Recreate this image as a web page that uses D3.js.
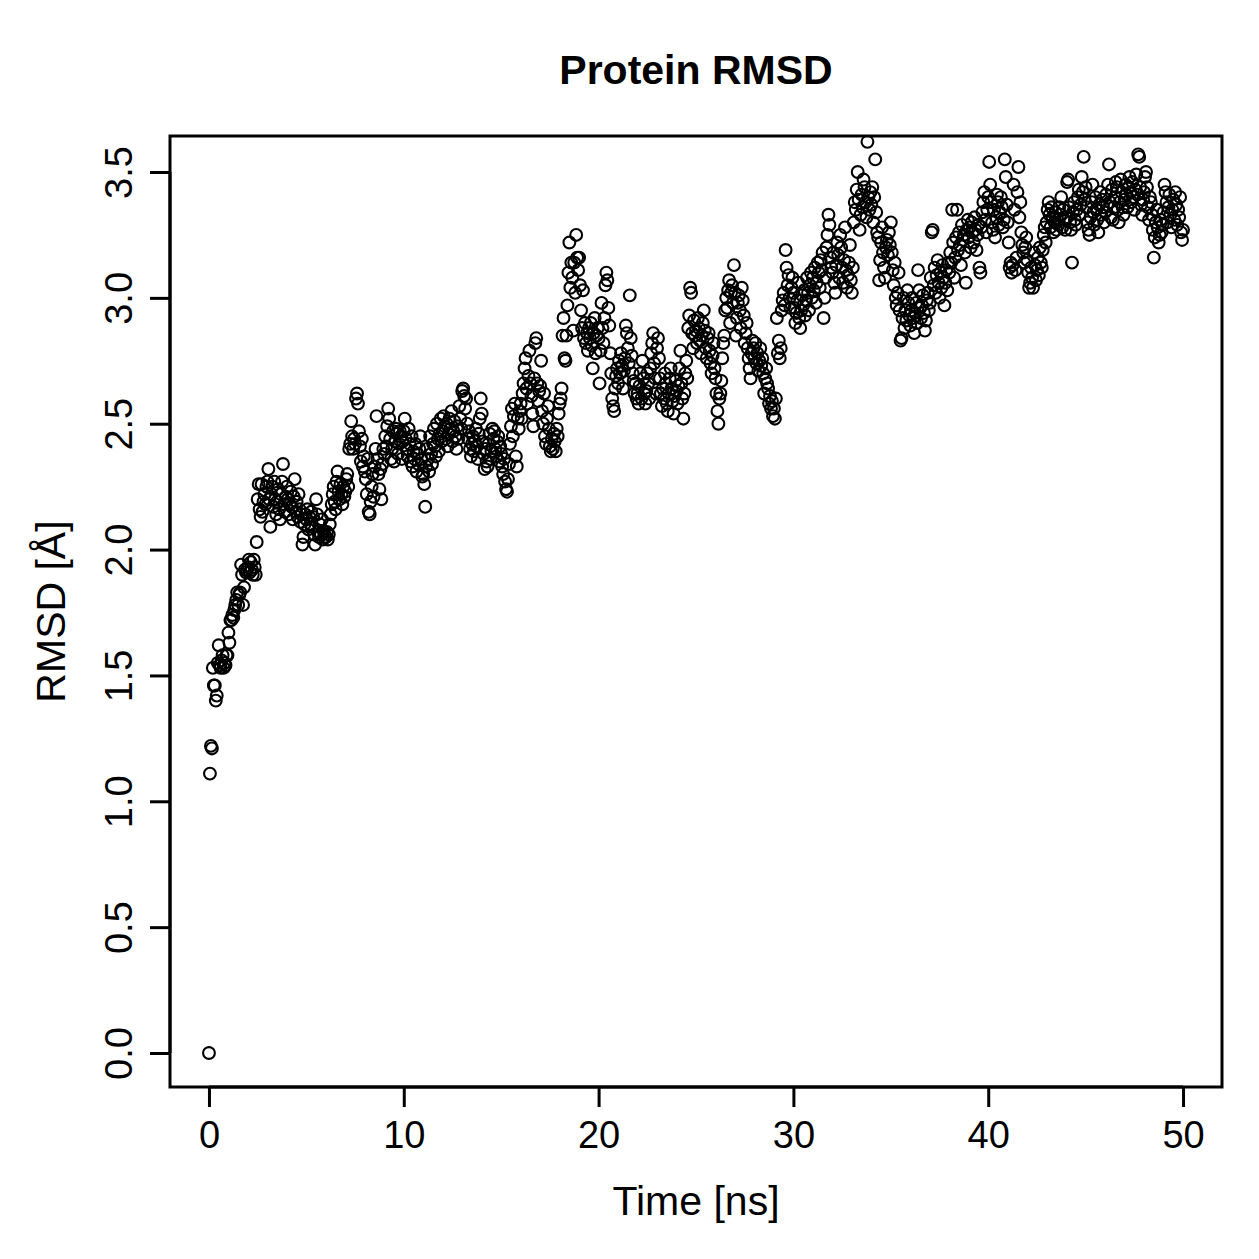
<!DOCTYPE html>
<html>
<head>
<meta charset="utf-8">
<script src="https://cdn.jsdelivr.net/npm/d3@7"></script>
<style>
  html, body { margin: 0; padding: 0; background: #fff; }
  svg { display: block; }
  text { font-family: "Liberation Sans", Arial, Helvetica, sans-serif; fill: #000; }
</style>
</head>
<body>
<svg id="chart" width="1259" height="1259"></svg>
<script>
// ---- data ----
const chartTitle = "Protein RMSD";
const xLabel = "Time [ns]";
const yLabel = "RMSD [Å]";
const timeStepNs = 0.05;               // sampling interval of the trajectory
const xTicks = [0, 10, 20, 30, 40, 50];
const yTicks = [0.0, 0.5, 1.0, 1.5, 2.0, 2.5, 3.0, 3.5];
const xDomain = [-2, 52];
const yDomain = [-0.135, 3.643];
// RMSD values (Å), one row per ns (20 frames per ns)
const rmsd = [
  0.00,1.11,1.22,1.21,1.53,1.46,1.46,1.40,1.42,1.55,1.62,1.54,1.53,1.56,1.58,1.53,1.55,1.54,1.58,1.58,
  1.67,1.63,1.72,1.72,1.74,1.73,1.76,1.78,1.80,1.83,1.78,1.82,1.83,1.94,1.90,1.78,1.85,1.92,1.91,1.92,
  1.93,1.96,1.91,1.95,1.92,1.90,1.96,1.93,1.90,2.03,2.20,2.26,2.16,2.13,2.26,2.15,2.19,2.22,2.18,2.25,
  2.27,2.32,2.20,2.09,2.22,2.25,2.17,2.27,2.20,2.14,2.19,2.24,2.16,2.12,2.22,2.27,2.34,2.18,2.15,2.21,
  2.25,2.20,2.14,2.18,2.23,2.17,2.12,2.21,2.28,2.15,2.19,2.13,2.22,2.16,2.11,2.14,2.02,2.05,2.10,2.14,
  2.12,2.16,2.08,2.13,2.10,2.15,2.09,2.13,2.06,2.02,2.20,2.14,2.07,2.05,2.10,2.06,2.12,2.04,2.07,2.05,
  2.05,2.07,2.04,2.06,2.10,2.14,2.18,2.22,2.25,2.19,2.16,2.27,2.31,2.23,2.20,2.26,2.22,2.18,2.25,2.21,
  2.23,2.28,2.30,2.25,2.40,2.42,2.51,2.45,2.40,2.44,2.42,2.60,2.62,2.58,2.47,2.41,2.35,2.44,2.33,2.37,
  2.31,2.28,2.22,2.36,2.15,2.14,2.19,2.25,2.30,2.21,2.33,2.40,2.53,2.36,2.30,2.24,2.32,2.20,2.34,2.40,
  2.38,2.45,2.41,2.49,2.56,2.52,2.44,2.36,2.40,2.47,2.35,2.43,2.48,2.46,2.38,2.42,2.47,2.45,2.36,2.43,
  2.47,2.52,2.44,2.40,2.37,2.48,2.42,2.35,2.45,2.33,2.39,2.36,2.42,2.31,2.38,2.34,2.40,2.45,2.36,2.29,
  2.30,2.26,2.17,2.33,2.40,2.36,2.31,2.45,2.38,2.34,2.42,2.48,2.41,2.37,2.50,2.44,2.39,2.46,2.52,2.43,
  2.47,2.53,2.49,2.44,2.50,2.41,2.46,2.52,2.48,2.55,2.43,2.47,2.51,2.45,2.40,2.49,2.44,2.57,2.52,2.48,
  2.63,2.64,2.61,2.56,2.60,2.50,2.44,2.47,2.40,2.37,2.42,2.45,2.39,2.43,2.48,2.41,2.36,2.46,2.52,2.60,
  2.54,2.43,2.38,2.32,2.40,2.35,2.33,2.42,2.46,2.36,2.39,2.48,2.44,2.47,2.40,2.37,2.43,2.45,2.35,2.41,
  2.38,2.33,2.30,2.36,2.27,2.24,2.23,2.28,2.34,2.42,2.49,2.56,2.45,2.53,2.58,2.37,2.33,2.52,2.48,2.55,
  2.58,2.52,2.62,2.66,2.72,2.76,2.64,2.58,2.69,2.79,2.66,2.61,2.54,2.49,2.68,2.82,2.84,2.66,2.59,2.63,
  2.65,2.75,2.55,2.50,2.62,2.45,2.42,2.52,2.57,2.48,2.41,2.39,2.44,2.40,2.46,2.43,2.39,2.48,2.45,2.54,
  2.58,2.60,2.64,2.85,2.92,2.76,2.75,2.85,2.97,3.10,3.22,3.04,3.14,3.08,2.87,3.14,3.02,3.25,3.16,3.11,
  3.16,3.05,2.95,2.88,3.03,2.84,2.90,2.82,2.86,2.79,2.88,2.84,2.90,2.81,2.72,2.86,2.92,2.78,2.85,2.88,
  2.84,2.66,2.79,2.98,2.88,2.82,2.92,3.05,3.10,3.07,2.96,2.89,2.78,2.70,2.60,2.57,2.55,2.64,2.69,2.72,
  2.66,2.75,2.70,2.78,2.73,2.64,2.71,2.76,2.89,2.86,2.80,2.74,3.01,2.84,2.77,2.70,2.67,2.62,2.66,2.60,
  2.62,2.58,2.65,2.70,2.60,2.75,2.68,2.62,2.58,2.63,2.70,2.66,2.60,2.72,2.78,2.82,2.86,2.74,2.68,2.62,
  2.80,2.84,2.76,2.68,2.62,2.57,2.64,2.60,2.70,2.66,2.58,2.55,2.62,2.68,2.72,2.64,2.59,2.54,2.61,2.67,
  2.63,2.58,2.65,2.72,2.79,2.66,2.60,2.52,2.62,2.70,2.75,2.68,2.88,2.93,3.04,3.02,2.86,2.80,2.91,2.85,
  2.87,2.82,2.92,2.88,2.83,2.78,2.85,2.90,2.95,2.87,2.80,2.76,2.84,2.86,2.79,2.74,2.70,2.77,2.82,2.72,
  2.68,2.62,2.55,2.50,2.60,2.62,2.67,2.76,2.82,2.85,2.95,3.00,2.96,3.03,3.07,2.90,3.02,3.05,2.98,3.13,
  3.02,2.85,2.92,2.98,3.01,2.95,2.88,3.04,2.99,2.93,2.82,2.86,2.90,2.80,2.76,2.72,2.68,2.78,2.83,2.80,
  2.76,2.82,2.74,2.78,2.71,2.75,2.80,2.73,2.76,2.70,2.62,2.68,2.72,2.66,2.64,2.58,2.61,2.56,2.59,2.53,
  2.56,2.52,2.60,2.92,2.78,2.83,2.76,2.80,2.95,2.99,3.02,2.97,3.19,3.12,3.05,3.09,3.00,2.96,3.04,3.08,
  3.02,2.96,2.90,2.94,2.99,3.06,2.92,2.88,2.95,3.01,2.97,3.03,2.93,2.99,3.08,3.02,2.95,3.05,3.10,3.00,
  3.08,3.03,3.12,2.98,3.06,3.14,3.10,3.04,3.15,3.11,3.18,2.92,3.00,3.08,3.20,3.25,3.33,3.29,3.16,3.12,
  3.10,3.18,3.06,3.02,3.13,3.22,3.17,3.08,3.25,3.20,3.12,3.06,3.15,3.28,3.11,3.04,3.09,3.14,3.21,3.07,
  3.02,3.12,3.30,3.38,3.35,3.43,3.50,3.39,3.27,3.33,3.41,3.36,3.47,3.44,3.38,3.32,3.62,3.40,3.35,3.42,
  3.37,3.44,3.30,3.40,3.55,3.34,3.26,3.24,3.07,3.15,3.22,3.28,3.18,3.12,3.08,3.20,3.23,3.17,3.26,3.21,
  3.30,3.18,3.11,3.05,3.14,3.00,2.97,3.02,3.10,2.95,2.83,2.84,2.92,3.00,2.88,2.95,2.91,3.03,2.98,2.93,
  2.89,2.95,3.00,2.92,2.86,2.94,2.98,2.90,3.11,3.03,2.96,2.92,2.97,3.01,2.94,2.87,2.91,2.99,3.02,2.95,
  2.98,3.08,3.26,3.27,3.05,3.12,3.02,3.09,3.15,3.06,3.00,3.10,3.04,3.13,3.08,2.97,3.06,3.11,3.03,3.14,
  3.10,3.18,3.14,3.35,3.22,3.08,3.16,3.24,3.35,3.19,3.26,3.21,3.13,3.29,3.23,3.25,3.18,3.06,3.27,3.31,
  3.24,3.28,3.20,3.30,3.26,3.22,3.32,3.27,3.19,3.25,3.29,3.12,3.10,3.28,3.34,3.38,3.42,3.31,3.26,3.35,
  3.40,3.54,3.45,3.38,3.30,3.27,3.35,3.24,3.32,3.41,3.38,3.29,3.34,3.40,3.36,3.28,3.31,3.55,3.48,3.37,
  3.30,3.22,3.12,3.14,3.10,3.13,3.45,3.35,3.11,3.16,3.42,3.52,3.32,3.38,3.26,3.21,3.18,3.14,3.20,3.24,
  3.15,3.10,3.04,3.06,3.12,3.08,3.04,3.18,3.13,3.07,3.11,3.16,3.09,3.20,3.14,3.12,3.19,3.25,3.28,3.22,
  3.30,3.35,3.38,3.33,3.28,3.36,3.32,3.26,3.30,3.34,3.27,3.31,3.29,3.36,3.33,3.40,3.28,3.35,3.31,3.27,
  3.32,3.46,3.47,3.36,3.30,3.27,3.14,3.34,3.38,3.31,3.29,3.35,3.40,3.43,3.33,3.37,3.48,3.42,3.56,3.39,
  3.44,3.36,3.30,3.27,3.25,3.32,3.38,3.45,3.34,3.29,3.40,3.35,3.31,3.26,3.37,3.42,3.33,3.39,3.36,3.30,
  3.34,3.41,3.37,3.45,3.53,3.38,3.32,3.43,3.31,3.36,3.40,3.46,3.44,3.35,3.30,3.38,3.47,3.42,3.36,3.33,
  3.39,3.45,3.41,3.36,3.44,3.48,3.42,3.38,3.46,3.40,3.35,3.43,3.49,3.41,3.57,3.56,3.44,3.37,3.33,3.39,
  3.42,3.48,3.50,3.44,3.36,3.31,3.40,3.38,3.33,3.27,3.16,3.24,3.30,3.35,3.28,3.22,3.25,3.31,3.26,3.29,
  3.34,3.45,3.42,3.38,3.30,3.36,3.41,3.33,3.28,3.35,3.39,3.31,3.42,3.37,3.29,3.35,3.32,3.40,3.26,3.23,
  3.27
];

// ---- layout ----
const plot = { left: 170, right: 1222, top: 136, bottom: 1087 };
const svg = d3.select("#chart");

const x = d3.scaleLinear().domain(xDomain).range([plot.left, plot.right]);
const y = d3.scaleLinear().domain(yDomain).range([plot.bottom, plot.top]);

const points = rmsd.map((v, i) => ({ t: i * timeStepNs, v }));

svg.append("defs").append("clipPath").attr("id", "plotclip")
  .append("rect")
  .attr("x", plot.left).attr("y", plot.top)
  .attr("width", plot.right - plot.left).attr("height", plot.bottom - plot.top);

// points
svg.append("g").attr("clip-path", "url(#plotclip)")
  .selectAll("circle").data(points).join("circle")
  .attr("cx", d => x(d.t))
  .attr("cy", d => y(d.v))
  .attr("r", 5.9)
  .attr("fill", "none")
  .attr("stroke", "#000")
  .attr("stroke-width", 2.1);

// frame
svg.append("rect")
  .attr("x", plot.left).attr("y", plot.top)
  .attr("width", plot.right - plot.left).attr("height", plot.bottom - plot.top)
  .attr("fill", "none").attr("stroke", "#000").attr("stroke-width", 3);

// x axis
const xAxis = d3.axisBottom(x).tickValues(xTicks).tickSize(20).tickPadding(10)
  .tickFormat(d3.format("d"));
const gx = svg.append("g").attr("transform", `translate(0,${plot.bottom})`).call(xAxis);
gx.select(".domain").attr("d", `M${x(xTicks[0])},0H${x(xTicks[xTicks.length - 1])}`)
  .attr("stroke-width", 3);
gx.selectAll(".tick line").attr("stroke-width", 3);
gx.selectAll(".tick text").attr("font-size", 38)
  .attr("font-family", '"Liberation Sans", Arial, sans-serif')
  .attr("dy", null).attr("y", 61);

// y axis
const yAxis = d3.axisLeft(y).tickValues(yTicks).tickSize(20)
  .tickFormat(d3.format(".1f"));
const gy = svg.append("g").attr("transform", `translate(${plot.left},0)`).call(yAxis);
gy.select(".domain").attr("d", `M0,${y(yTicks[0])}V${y(yTicks[yTicks.length - 1])}`)
  .attr("stroke-width", 3);
gy.selectAll(".tick line").attr("stroke-width", 3);
gy.selectAll(".tick text")
  .attr("font-size", 38)
  .attr("font-family", '"Liberation Sans", Arial, sans-serif')
  .attr("x", null).attr("dy", null)
  .attr("text-anchor", "middle")
  .attr("transform", "translate(-38,0) rotate(-90)");

// titles
svg.append("text")
  .attr("x", (plot.left + plot.right) / 2).attr("y", 84)
  .attr("text-anchor", "middle")
  .attr("font-size", 41).attr("font-weight", "bold")
  .text(chartTitle);

svg.append("text")
  .attr("x", (plot.left + plot.right) / 2).attr("y", 1215)
  .attr("text-anchor", "middle")
  .attr("font-size", 41)
  .text(xLabel);

svg.append("text")
  .attr("transform", `translate(65,${(plot.top + plot.bottom) / 2}) rotate(-90)`)
  .attr("text-anchor", "middle")
  .attr("font-size", 41)
  .text(yLabel);
</script>
</body>
</html>
